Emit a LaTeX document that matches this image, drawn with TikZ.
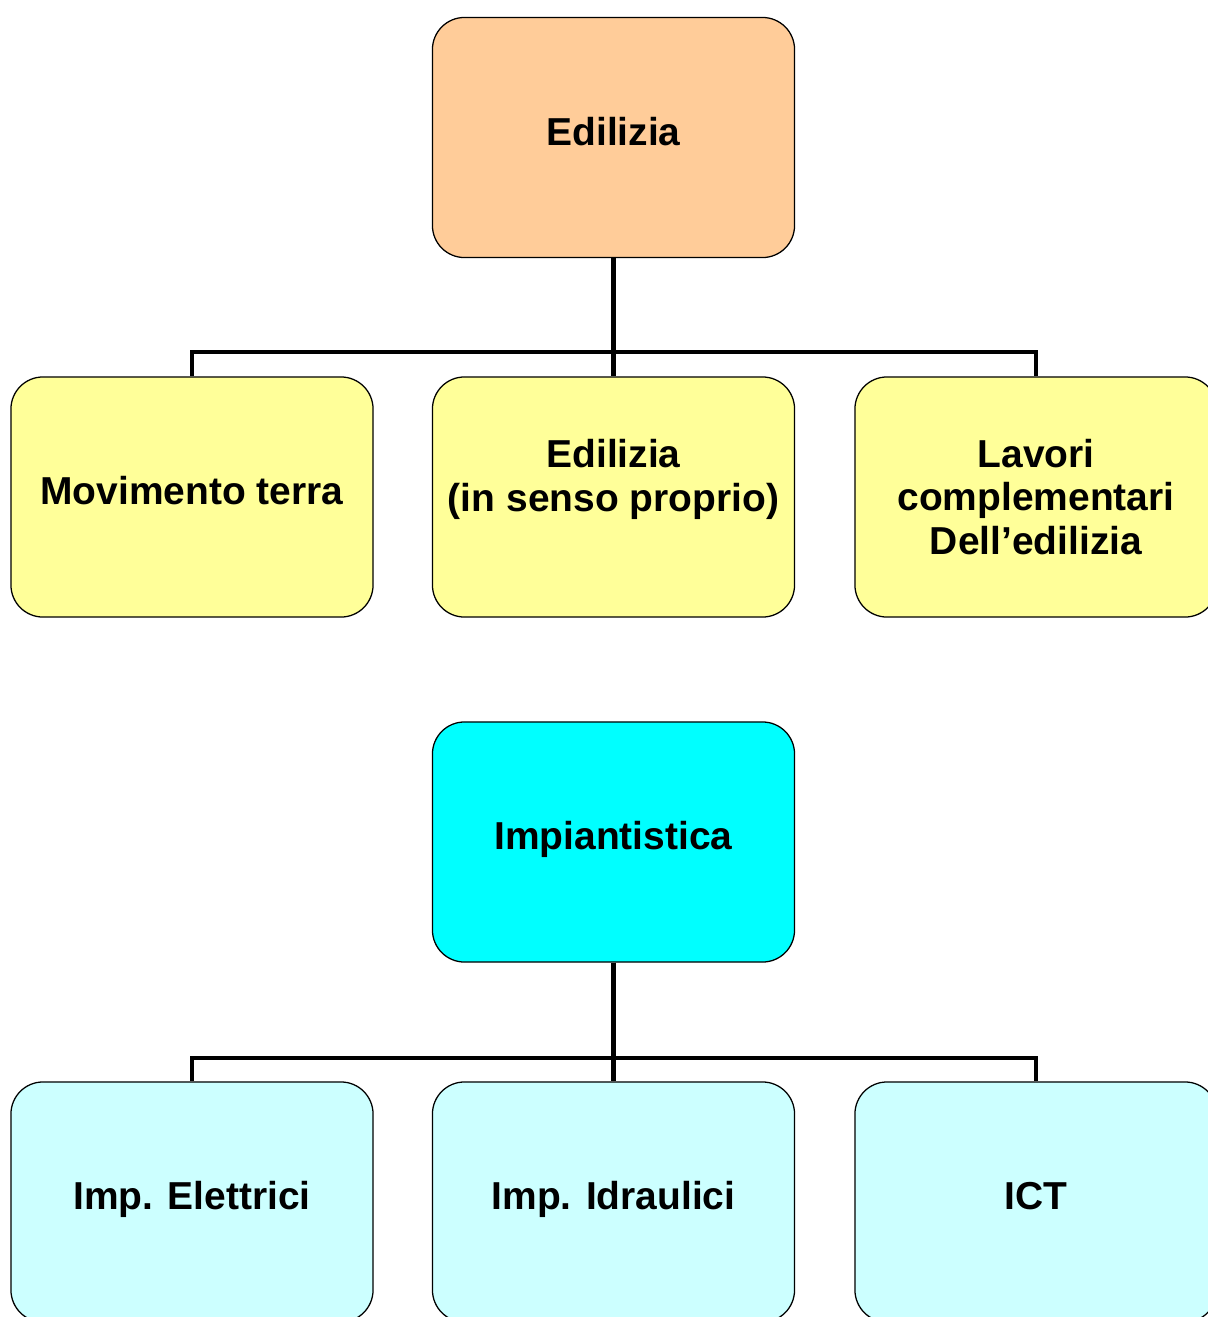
\documentclass[tikz,border=0pt]{standalone}
\usepackage{fontspec}
\setmainfont{Liberation Sans}
\usetikzlibrary{positioning}

\definecolor{edilcol}{HTML}{FFCC99}
\definecolor{subcol}{HTML}{FFFF99}
\definecolor{impcol}{HTML}{00FFFF}
\definecolor{impsubcol}{HTML}{CCFFFF}

\tikzset{
  box/.style={draw=black, line width=0.9pt, rounded corners=0.8cm,
    minimum width=9.05cm, minimum height=6cm, align=center,
    font=\fontsize{27.7}{31.2}\selectfont\bfseries, inner sep=0pt},
  oneline/.style={text height=20pt, text depth=8.7pt},
  bus/.style={line width=3.4pt}
}

\begin{document}
\begin{tikzpicture}[x=0.025cm, y=-0.025cm]
  \useasboundingbox (0,0) rectangle (1208,1317);

  % Edilizia and its three branches
  \node[box, oneline, fill=edilcol] (edil) at (613.5,137.5) {Edilizia};
  \node[box, oneline, fill=subcol] (movterra) at (192,497) {Movimento terra};
  \node[box, fill=subcol] (edilprop) at (613.5,497) {Edilizia\\(in senso proprio)\\~};
  \node[box, fill=subcol] (lavcompl) at (1036,497) {Lavori\\complementari\\Dell’edilizia};

  % Impiantistica and its three branches
  \node[box, oneline, fill=impcol] (impiant) at (613.5,842) {Impiantistica};
  \node[box, oneline, fill=impsubcol] (impel) at (192,1202) {Imp. Elettrici};
  \node[box, oneline, fill=impsubcol] (impidr) at (613.5,1202) {Imp. Idraulici};
  \node[box, oneline, fill=impsubcol] (ict) at (1036,1202) {ICT};

  % junctions of the connectors
  \coordinate (j1) at (613.5,352);
  \coordinate (j2) at (613.5,1058);

  % connectors
  \foreach \c in {movterra,edilprop,lavcompl}
  \draw[bus] (edil.south) -- (j1) -| (\c.north);
  \foreach \c in {impel,impidr,ict}
  \draw[bus] (impiant.south) -- (j2) -| (\c.north);
\end{tikzpicture}
\end{document}
